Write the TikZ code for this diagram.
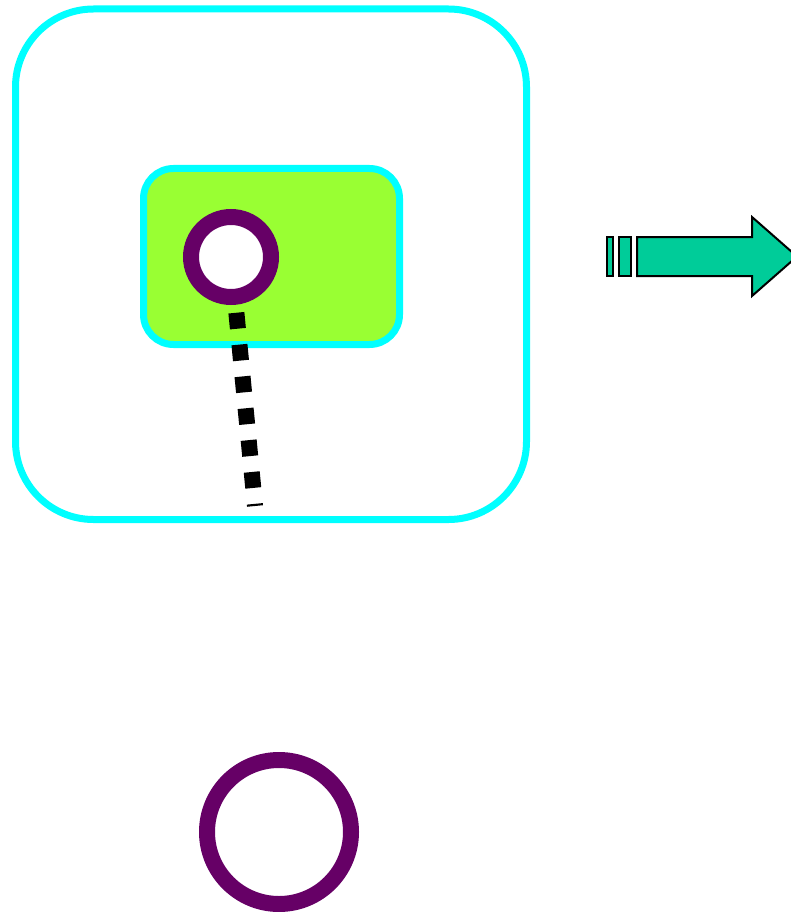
\documentclass[tikz,border=0pt]{standalone}
\definecolor{dgCyan}{HTML}{00FFFF}
\definecolor{dgLime}{HTML}{99FF33}
\definecolor{dgPlum}{HTML}{660066}
\definecolor{dgSea}{HTML}{00CC99}
\tikzset{
  dg frame/.style={draw=dgCyan, line width=7pt, rounded corners=78pt, inner sep=0pt},
  dg pane/.style={draw=dgCyan, fill=dgLime, line width=7pt, rounded corners=30pt, inner sep=0pt},
  dg ring/.style={circle, draw=dgPlum, fill=white, line width=16pt, inner sep=0pt},
  dg dash/.style={draw=black, line width=16pt, dash pattern=on 16pt off 16pt, dash phase=24pt},
  dg shaft/.style={draw=black, fill=dgSea, line width=2pt, line join=miter},
}

\begin{document}
\begin{tikzpicture}[x=1pt,y=-1pt]
\useasboundingbox (0,0) rectangle (790,912);
\node[dg frame,minimum width=511pt,minimum height=510.5pt](frame)at(271,264.25){};
\node[dg pane,minimum width=256pt,minimum height=176pt](pane)at(271.5,256.5){};
\node[dg ring,minimum size=80pt](port)at(231,257){};\coordinate(tail)at(255,506);
\draw[dg dash](port)--(tail);
\node[dg ring,minimum size=144pt](sink)at(279,832){};
\draw[dg shaft](607,237)rectangle(613,276);\draw[dg shaft](619,237)rectangle(631,276);
\draw[dg shaft](637,237)--(752,237)--(752,217)--(797,256.5)--(752,296)--(752,276)--(637,276)--cycle;
\end{tikzpicture}
\end{document}
